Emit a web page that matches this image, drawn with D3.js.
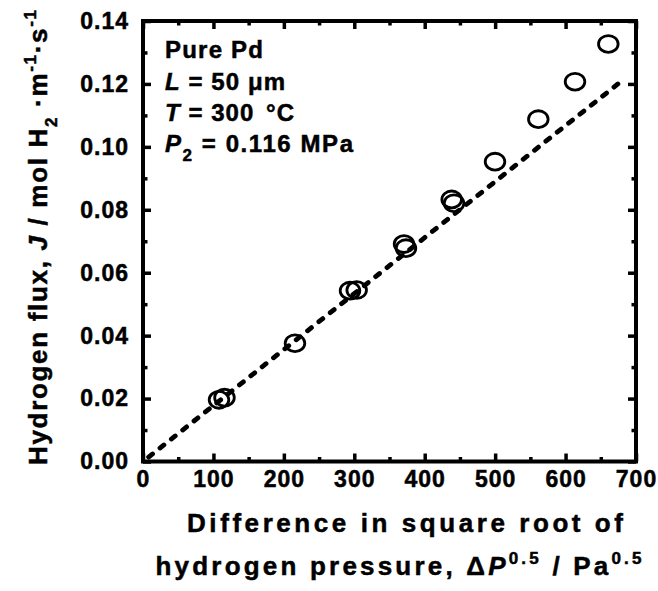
<!DOCTYPE html>
<html><head><meta charset="utf-8">
<script src="https://cdn.jsdelivr.net/npm/d3@7"></script>
<style>
body{margin:0;background:#fff;}
text{font-family:"Liberation Sans",Arial,sans-serif;font-weight:bold;fill:#000;stroke:#000;stroke-width:0.5px;}
</style></head>
<body>
<svg id="c" width="658" height="591"></svg>
<script>
// Data
const sqrtDiff = [107.9, 115.7, 215.8, 293.9, 303.4, 370.6, 373.4, 438.3, 441.6, 499.8, 561.3, 613.4, 660.7];
const flux     = [0.0196, 0.0203, 0.0376, 0.0543, 0.0545, 0.0691, 0.0678, 0.0833, 0.0821, 0.0953, 0.1088, 0.1207, 0.1327];
const fitX = [8, 680];
const fitY = [0.0014, 0.1210];
const xMajor = [0,100,200,300,400,500,600,700];
const xMinor = [50,150,250,350,450,550,650];
const yMajor = [0,0.02,0.04,0.06,0.08,0.10,0.12,0.14];
const yMinor = [0.01,0.03,0.05,0.07,0.09,0.11,0.13];
const infoLines = ["Pure Pd","L = 50 μm","T = 300 °C","P2 = 0.116 MPa"];

const svg = d3.select("#c");
const x = d3.scaleLinear().domain([0,700]).range([143,636]);
const y = d3.scaleLinear().domain([0,0.14]).range([461.5,21]);

function styleAxis(g, w){
  g.select(".domain").remove();
  g.selectAll(".tick line").attr("stroke","#000").attr("stroke-width",w);
  g.selectAll("text").style("font-size","23px").style("letter-spacing","1px").attr("fill","#000");
}
// bottom
svg.append("g").attr("transform",`translate(0,${y(0)})`)
  .call(d3.axisBottom(x).tickValues(xMajor).tickSizeInner(-8).tickSizeOuter(0).tickPadding(9).tickFormat(d3.format("d")))
  .call(g=>styleAxis(g,3.5));
svg.append("g").attr("transform",`translate(0,${y(0)})`)
  .call(d3.axisBottom(x).tickValues(xMinor).tickSizeInner(-4.5).tickSizeOuter(0).tickFormat(""))
  .call(g=>styleAxis(g,3.5));
// top
svg.append("g").attr("transform",`translate(0,${y(0.14)})`)
  .call(d3.axisTop(x).tickValues(xMajor).tickSizeInner(-8).tickSizeOuter(0).tickFormat(""))
  .call(g=>styleAxis(g,3.5));
svg.append("g").attr("transform",`translate(0,${y(0.14)})`)
  .call(d3.axisTop(x).tickValues(xMinor).tickSizeInner(-4.5).tickSizeOuter(0).tickFormat(""))
  .call(g=>styleAxis(g,3.5));
// left
svg.append("g").attr("transform",`translate(${x(0)},0)`)
  .call(d3.axisLeft(y).tickValues(yMajor).tickSizeInner(-8).tickSizeOuter(0).tickPadding(14).tickFormat(d3.format(".2f")))
  .call(g=>styleAxis(g,3.5));
svg.append("g").attr("transform",`translate(${x(0)},0)`)
  .call(d3.axisLeft(y).tickValues(yMinor).tickSizeInner(-4.5).tickSizeOuter(0).tickFormat(""))
  .call(g=>styleAxis(g,3.5));
// right
svg.append("g").attr("transform",`translate(${x(700)},0)`)
  .call(d3.axisRight(y).tickValues(yMajor).tickSizeInner(-8).tickSizeOuter(0).tickFormat(""))
  .call(g=>styleAxis(g,3.5));
svg.append("g").attr("transform",`translate(${x(700)},0)`)
  .call(d3.axisRight(y).tickValues(yMinor).tickSizeInner(-4.5).tickSizeOuter(0).tickFormat(""))
  .call(g=>styleAxis(g,3.5));

// frame
svg.append("rect").attr("x",x(0)).attr("y",y(0.14)).attr("width",x(700)-x(0)).attr("height",y(0)-y(0.14))
  .attr("fill","none").attr("stroke","#000").attr("stroke-width",4);

// fit line
svg.append("path").datum(fitX.map((d,i)=>[d,fitY[i]]))
  .attr("d", d3.line().x(d=>x(d[0])).y(d=>y(d[1])))
  .attr("stroke","#000").attr("stroke-width",4.8).attr("fill","none")
  .attr("stroke-dasharray","5,9.5").attr("stroke-linecap","round");

// points
svg.append("g").selectAll("ellipse").data(sqrtDiff).join("ellipse")
  .attr("cx",(d)=>x(d)).attr("cy",(d,i)=>y(flux[i]))
  .attr("rx",9.8).attr("ry",8.4).attr("fill","none").attr("stroke","#000").attr("stroke-width",2.8);

// info box
const info = svg.append("g").style("font-size","24px");
const baselines = [57.5, 89.5, 121, 151.5];
const lens = [98, 120, 129, 188];
info.append("text").attr("x",165).attr("y",baselines[0]).attr("textLength",lens[0]).attr("lengthAdjust","spacing").text(infoLines[0]);
{ const t = info.append("text").attr("x",165).attr("y",baselines[1]).attr("textLength",lens[1]).attr("lengthAdjust","spacing");
  t.append("tspan").style("font-style","italic").text("L");
  t.append("tspan").text(" = 50 μm"); }
{ const t = info.append("text").attr("x",165).attr("y",baselines[2]).attr("textLength",lens[2]).attr("lengthAdjust","spacing");
  t.append("tspan").style("font-style","italic").text("T");
  t.append("tspan").text(" = 300 ");
  t.append("tspan").attr("dx",4).text("°C"); }
{ const t = info.append("text").attr("x",165).attr("y",baselines[3]).attr("textLength",lens[3]).attr("lengthAdjust","spacing");
  t.append("tspan").style("font-style","italic").text("P");
  t.append("tspan").attr("dy",9).style("font-size","17px").text("2");
  t.append("tspan").attr("dy",-9).text(" = 0.116 MPa"); }

// y title
{ const t = svg.append("text").attr("transform","translate(46.5,237.5) rotate(-90)")
    .attr("text-anchor","middle").style("font-size","26px")
    .attr("textLength",455).attr("lengthAdjust","spacing");
  t.append("tspan").text("Hydrogen flux, ");
  t.append("tspan").style("font-style","italic").text("J");
  t.append("tspan").text(" / mol H");
  t.append("tspan").attr("dy",10).style("font-size","17px").text("2");
  t.append("tspan").attr("dy",-10).text(" ·m");
  t.append("tspan").attr("dy",-11).style("font-size","17px").text("-1");
  t.append("tspan").attr("dy",11).text("·s");
  t.append("tspan").attr("dy",-11).style("font-size","17px").text("-1"); }

// x title
svg.append("text").attr("x",405).attr("y",531.5).attr("text-anchor","middle").style("font-size","26px")
  .attr("textLength",436).attr("lengthAdjust","spacing").text("Difference in square root of");
{ const t = svg.append("text").attr("x",398.5).attr("y",575).attr("text-anchor","middle").style("font-size","26px")
    .attr("textLength",486).attr("lengthAdjust","spacing");
  t.append("tspan").text("hydrogen pressure, Δ");
  t.append("tspan").style("font-style","italic").text("P");
  t.append("tspan").attr("dy",-11).style("font-size","17px").text("0.5");
  t.append("tspan").attr("dy",11).text(" / Pa");
  t.append("tspan").attr("dy",-11).style("font-size","17px").text("0.5"); }
</script>
</body></html>
